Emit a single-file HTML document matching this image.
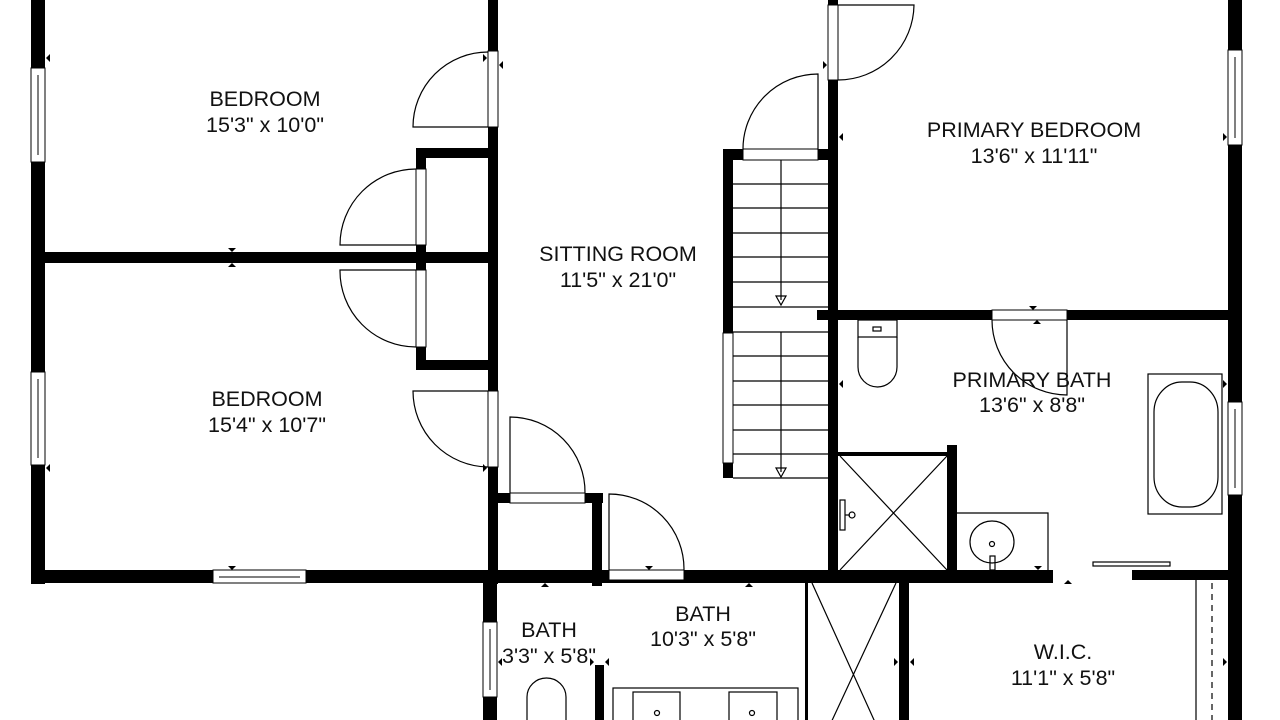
<!DOCTYPE html>
<html><head><meta charset="utf-8"><style>
html,body{margin:0;padding:0;background:#fff;}
svg{display:block;}
text{font-family:"Liberation Sans",Arial,sans-serif;font-size:21.5px;fill:#111;text-anchor:middle;}
</style></head><body>
<svg width="1280" height="720" viewBox="0 0 1280 720" xmlns="http://www.w3.org/2000/svg">
<g fill="#000">
<rect x="31" y="0" width="14" height="584"/>
<rect x="31" y="570" width="1022" height="13"/>
<rect x="1132" y="570" width="98" height="10"/>
<rect x="45" y="252" width="445" height="11"/>
<rect x="488" y="0" width="10" height="584"/>
<rect x="483" y="583" width="14" height="137"/>
<rect x="416" y="148" width="74" height="10"/>
<rect x="416" y="148" width="10" height="222"/>
<rect x="416" y="360" width="74" height="10"/>
<rect x="488" y="493" width="22" height="10"/>
<rect x="585" y="493" width="18" height="10"/>
<rect x="592" y="493" width="10" height="93"/>
<rect x="595" y="665" width="9" height="55"/>
<rect x="828" y="0" width="10" height="570"/>
<rect x="723" y="149" width="10" height="184"/>
<rect x="723" y="463" width="10" height="15"/>
<rect x="723" y="149" width="20" height="11"/>
<rect x="818" y="149" width="12" height="11"/>
<rect x="817" y="310" width="175" height="10"/>
<rect x="1067" y="310" width="163" height="10"/>
<rect x="1228" y="0" width="14" height="720"/>
<rect x="838" y="452" width="110" height="4"/>
<rect x="947" y="445" width="10" height="125"/>
<rect x="805" y="583" width="3" height="137"/>
<rect x="899" y="583" width="10" height="137"/>
</g>
<g fill="#fff" stroke="#000" stroke-width="1">
<rect x="31" y="68" width="14" height="94"/><line x1="38" y1="75" x2="38" y2="155"/>
<rect x="31" y="372" width="14" height="93"/><line x1="38" y1="379" x2="38" y2="458"/>
<rect x="213" y="570" width="93" height="13"/><line x1="219" y1="577" x2="300" y2="577"/>
<rect x="1228" y="50" width="14" height="95"/><line x1="1235" y1="57" x2="1235" y2="138"/>
<rect x="1228" y="402" width="14" height="93"/><line x1="1235" y1="409" x2="1235" y2="488"/>
<rect x="483" y="622" width="14" height="75"/><line x1="490" y1="629" x2="490" y2="690"/>
<rect x="723" y="333" width="10" height="130"/>
<rect x="488" y="51" width="10" height="76"/>
<rect x="416" y="169" width="10" height="76"/>
<rect x="416" y="270" width="10" height="77"/>
<rect x="488" y="391" width="10" height="76"/>
<rect x="510" y="493" width="75" height="10"/>
<rect x="609" y="570" width="75" height="10"/>
<rect x="828" y="5" width="10" height="75"/>
<rect x="743" y="149" width="75" height="11"/>
<rect x="992" y="310" width="75" height="10"/>
</g>
<g fill="none" stroke="#000" stroke-width="1.2">
<path d="M488 127 H413 A75 75 0 0 1 488 52"/>
<path d="M416 245 H340 A76 76 0 0 1 416 169"/>
<path d="M416 270 H340 A76 76 0 0 0 416 347"/>
<path d="M488 391 H413 A76 76 0 0 0 488 467"/>
<path d="M510 493 V417 A75 75 0 0 1 585 493"/>
<path d="M609 570 V494 A75 75 0 0 1 684 570"/>
<path d="M838 5 H914 A76 76 0 0 1 838 80"/>
<path d="M818 150 V74 A75 75 0 0 0 743 150"/>
<path d="M1067 320 V395 A75 75 0 0 1 992 320"/>
<path d="M733 184H828M733 208H828M733 233H828M733 257H828M733 282H828M733 307H828M733 332H828M733 356H828M733 381H828M733 405H828M733 430H828M733 454H828M733 478H828"/>
<line x1="781" y1="160" x2="781" y2="300"/>
<line x1="781" y1="332" x2="781" y2="472"/>
<path d="M776 296 L781 305 L786 296 Z M776 468 L781 477 L786 468 Z"/>
<path d="M840 456 L947 570 M947 456 L840 570"/>
<path d="M812 583 L884 742 M896 583 L822 742"/>
<rect x="858" y="320" width="39" height="17"/>
<rect x="873" y="327" width="8" height="4"/>
<path d="M858 337 V367 A19.5 20 0 0 0 897 367 V337"/>
<path d="M957 513 H1048 V570"/>
<ellipse cx="992" cy="542" rx="22" ry="21"/>
<circle cx="992" cy="544" r="2.5"/>
<rect x="990" y="556" width="5" height="14"/>
<rect x="840" y="500" width="5" height="30"/><path d="M845 515 H850"/><circle cx="852" cy="515" r="3"/>
<rect x="1148" y="374" width="74" height="140"/>
<rect x="1154" y="382" width="64" height="125" rx="28" ry="30"/>
<rect x="1093" y="562" width="77" height="4"/>
<line x1="1196" y1="580" x2="1196" y2="720"/>
<line x1="1212" y1="583" x2="1212" y2="720" stroke-dasharray="6 5"/>
<path d="M527 720 V697 A19.5 19 0 0 1 566 697 V720"/>
<rect x="613" y="688" width="185" height="40"/>
<rect x="633" y="692" width="47" height="40"/>
<rect x="729" y="692" width="48" height="40"/>
<circle cx="657" cy="713" r="2.5"/><circle cx="752" cy="713" r="2.5"/>
</g>
<g fill="#000">
<path d="M46 58 l4 -4 v8z"/>
<path d="M487 58 l-4 -4 v8z"/><path d="M499 65 l4 -4 v8z"/>
<path d="M228 248 h8 l-4 4z M228 267 h8 l-4 -4z"/>
<path d="M46 468 l4 -4 v8z"/><path d="M487 468 l-4 -4 v8z"/>
<path d="M228 566 h8 l-4 4z"/>
<path d="M541 587 h8 l-4 -4z"/><path d="M645 566 h8 l-4 4z"/><path d="M745 587 h8 l-4 -4z"/>
<path d="M839 137 l4 -4 v8z"/><path d="M827 65 l-4 -4 v8z"/>
<path d="M1227 137 l-4 -4 v8z"/>
<path d="M1029 306 h8 l-4 4z M1033 324 h8 l-4 -4z"/>
<path d="M839 384 l4 -4 v8z"/><path d="M1227 384 l-4 -4 v8z"/>
<path d="M1034 566 h8 l-4 4z"/><path d="M1064 584 h8 l-4 -4z"/>
<path d="M498 662 l4 -4 v8z"/><path d="M594 662 l-4 -4 v8z"/><path d="M605 662 l4 -4 v8z"/>
<path d="M898 662 l-4 -4 v8z"/><path d="M910 662 l4 -4 v8z"/><path d="M1227 662 l-4 -4 v8z"/>
</g>
<text x="265" y="106">BEDROOM</text>
<text x="265" y="132">15'3" x 10'0"</text>
<text x="618" y="261">SITTING ROOM</text>
<text x="618" y="287">11'5" x 21'0"</text>
<text x="1034" y="137">PRIMARY BEDROOM</text>
<text x="1034" y="163">13'6" x 11'11"</text>
<text x="267" y="406">BEDROOM</text>
<text x="267" y="432">15'4" x 10'7"</text>
<text x="1032" y="387">PRIMARY BATH</text>
<text x="1032" y="412">13'6" x 8'8"</text>
<text x="549" y="637">BATH</text>
<text x="549" y="663">3'3" x 5'8"</text>
<text x="703" y="621">BATH</text>
<text x="703" y="646">10'3" x 5'8"</text>
<text x="1063" y="659">W.I.C.</text>
<text x="1063" y="685">11'1" x 5'8"</text>
</svg>
</body></html>
